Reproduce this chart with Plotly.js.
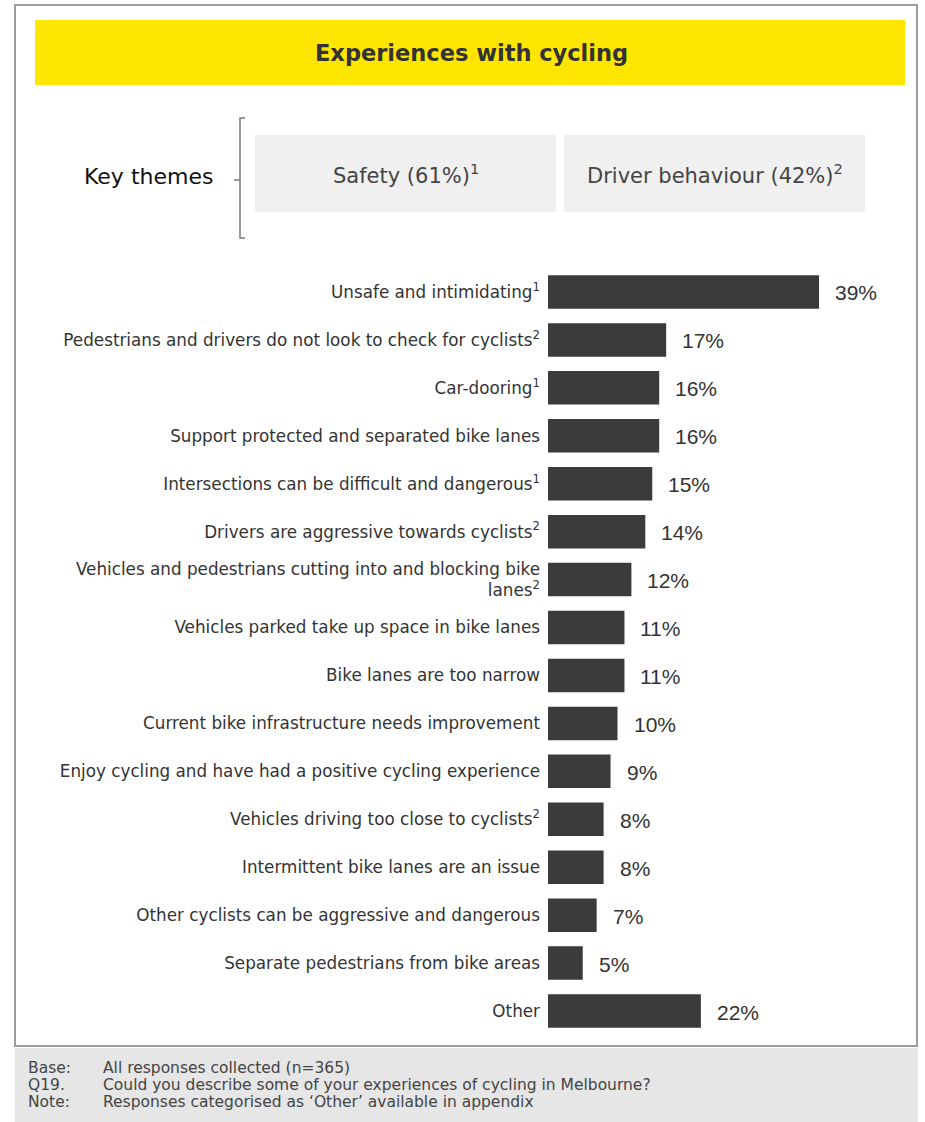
<!DOCTYPE html>
<html>
<head>
<meta charset="utf-8">
<script src="https://cdn.plot.ly/plotly-3.0.1.min.js"></script>
<style>
  html, body { margin: 0; padding: 0; background: #ffffff; }
  #chart { width: 925px; height: 1122px; }
</style>
</head>
<body>
<div id="chart"></div>
<script>
// ---- data ----
const categories = [
  "Unsafe and intimidating<sup>1</sup>",
  "Pedestrians and drivers do not look to check for cyclists<sup>2</sup>",
  "Car-dooring<sup>1</sup>",
  "Support protected and separated bike lanes",
  "Intersections can be difficult and dangerous<sup>1</sup>",
  "Drivers are aggressive towards cyclists<sup>2</sup>",
  "Vehicles and pedestrians cutting into and blocking bike<br>lanes<sup>2</sup>",
  "Vehicles parked take up space in bike lanes",
  "Bike lanes are too narrow",
  "Current bike infrastructure needs improvement",
  "Enjoy cycling and have had a positive cycling experience",
  "Vehicles driving too close to cyclists<sup>2</sup>",
  "Intermittent bike lanes are an issue",
  "Other cyclists can be aggressive and dangerous",
  "Separate pedestrians from bike areas",
  "Other"
];
const values = [39, 17, 16, 16, 15, 14, 12, 11, 11, 10, 9, 8, 8, 7, 5, 22];
const valueLabels = ["39%", "17%", "16%", "16%", "15%", "14%", "12%", "11%", "11%", "10%", "9%", "8%", "8%", "7%", "5%", "22%"];

const chartTitle = "Experiences with cycling";
const keyThemesLabel = "Key themes";
const themes = ["Safety (61%)<sup>1</sup>", "Driver behaviour (42%)<sup>2</sup>"];
const footnoteKeys = ["Base:", "Q19.", "Note:"];
const footnoteTexts = [
  "All responses collected (n=365)",
  "Could you describe some of your experiences of cycling in Melbourne?",
  "Responses categorised as ‘Other’ available in appendix"
];

// ---- layout geometry ----
const W = 925, H = 1122;
const M = { l: 548, r: 20, t: 268, b: 87 };
const PW = W - M.l - M.r, PH = H - M.t - M.b;
const px = x => (x - M.l) / PW;
const py = y => 1 - (y - M.t) / PH;
const FONT = "DejaVu Sans, Verdana, sans-serif";
const FONT2 = "Liberation Sans, Arial, sans-serif";

const shapes = [];
const annotations = [];

// outer frame
shapes.push({ type: "rect", xref: "paper", yref: "paper", x0: px(15), x1: px(917), y0: py(5), y1: py(1046),
  line: { color: "#9c9c9c", width: 2 }, fillcolor: "rgba(0,0,0,0)", layer: "below" });
// footer band
shapes.push({ type: "rect", xref: "paper", yref: "paper", x0: px(15), x1: px(918), y0: py(1048), y1: py(1122),
  line: { width: 0 }, fillcolor: "#e6e6e6", layer: "below" });
// yellow title bar
shapes.push({ type: "rect", xref: "paper", yref: "paper", x0: px(35), x1: px(905), y0: py(20), y1: py(85),
  line: { width: 0 }, fillcolor: "#ffe600", layer: "below" });
annotations.push({ xref: "paper", yref: "paper", x: px(471), y: py(53), text: "<b>" + chartTitle + "</b>",
  showarrow: false, xanchor: "center", yanchor: "middle", font: { family: FONT, size: 22.5, color: "#333333" } });

// key themes
annotations.push({ xref: "paper", yref: "paper", x: px(215), y: py(176), text: keyThemesLabel,
  showarrow: false, xanchor: "right", yanchor: "middle", font: { family: FONT, size: 22, color: "#111111" } });
// bracket
const bc = "#777777";
shapes.push({ type: "path", xref: "paper", yref: "paper",
  path: `M ${px(245)},${py(118)} L ${px(240)},${py(118)} L ${px(240)},${py(238)} L ${px(245)},${py(238)}`,
  line: { color: bc, width: 1.5 } });
shapes.push({ type: "line", xref: "paper", yref: "paper", x0: px(234), x1: px(240), y0: py(180), y1: py(180),
  line: { color: bc, width: 1.5 } });
// theme boxes
const boxes = [[255, 556], [564, 865]];
boxes.forEach((b, i) => {
  shapes.push({ type: "rect", xref: "paper", yref: "paper", x0: px(b[0]), x1: px(b[1]), y0: py(135), y1: py(212),
    line: { width: 0 }, fillcolor: "#f0f0f0", layer: "below" });
  annotations.push({ xref: "paper", yref: "paper", x: px((b[0] + b[1]) / 2), y: py(174), text: themes[i],
    showarrow: false, xanchor: "center", yanchor: "middle", font: { family: FONT, size: 21, color: "#444444" } });
});

// value labels
values.forEach((v, i) => {
  annotations.push({ xref: "x", yref: "y", x: v, y: categories[i], text: valueLabels[i],
    showarrow: false, xanchor: "left", yanchor: "middle", xshift: 14, yshift: -1,
    font: { family: FONT2, size: 21, color: "#333333" } });
});

// footnotes
const fy = [1068, 1085, 1102];
footnoteKeys.forEach((k, i) => {
  annotations.push({ xref: "paper", yref: "paper", x: px(26), y: py(fy[i]), text: k, showarrow: false,
    xanchor: "left", yanchor: "middle", font: { family: FONT, size: 15.5, color: "#444444" } });
  annotations.push({ xref: "paper", yref: "paper", x: px(101), y: py(fy[i]), text: footnoteTexts[i], showarrow: false,
    xanchor: "left", yanchor: "middle", font: { family: FONT, size: 15.5, color: "#444444" } });
});

const trace = {
  type: "bar",
  orientation: "h",
  x: values,
  y: categories,
  marker: { color: "#3b3b3b" },
  width: 0.7,
  hoverinfo: "skip"
};

const layout = {
  width: W, height: H,
  margin: M,
  paper_bgcolor: "#ffffff",
  plot_bgcolor: "#ffffff",
  showlegend: false,
  xaxis: { range: [0, PW / 6.95], visible: false, fixedrange: true },
  yaxis: { autorange: "reversed", showgrid: false, zeroline: false, showline: false, ticks: "",
    ticklabelstandoff: 7, tickfont: { family: FONT, size: 16.8, color: "#333333" }, fixedrange: true },
  shapes: shapes,
  annotations: annotations,
  font: { family: FONT }
};

Plotly.newPlot("chart", [trace], layout, { displayModeBar: false, staticPlot: true });
</script>
</body>
</html>
